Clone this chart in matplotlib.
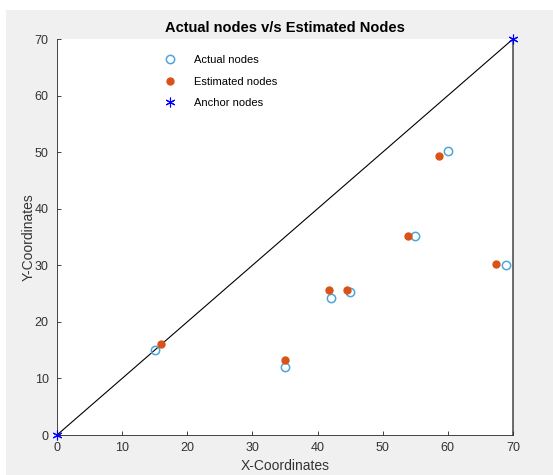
import matplotlib
matplotlib.use("Agg")
import matplotlib.pyplot as plt
from matplotlib.patches import Rectangle

plt.rcParams['font.family'] = ['Liberation Sans', 'DejaVu Sans']

# Data
actual_x = [15, 35, 42, 45, 55, 60, 69]
actual_y = [15, 12, 24.2, 25.2, 35.1, 50.2, 30.1]
est_x = [15.9, 35.0, 41.7, 44.5, 53.9, 58.7, 67.4]
est_y = [16.1, 13.3, 25.6, 25.6, 35.2, 49.4, 30.3]
anchor_x = [0, 70]
anchor_y = [0, 70]
path_x = [0, 70, 70]
path_y = [0, 70, 0]
ticks = [0, 10, 20, 30, 40, 50, 60, 70]

fig = plt.figure(figsize=(5.53, 4.75), dpi=100, facecolor='#f0f0f0')
# white strips (screenshot border)
fig.patches.append(Rectangle((0, 1 - 10/475), 1, 10/475, transform=fig.transFigure,
                             facecolor='white', edgecolor='none', zorder=-1))
fig.patches.append(Rectangle((0, 0), 6/553, 1, transform=fig.transFigure,
                             facecolor='white', edgecolor='none', zorder=-1))

ax = fig.add_axes([57/553, 40/475, 456/553, 396/475])
ax.set_facecolor('white')

ax.plot(path_x, path_y, color='black', linewidth=0.8, zorder=1, clip_on=False)
ax.plot(actual_x, actual_y, linestyle='none', marker='o', markersize=6,
        markerfacecolor='none', markeredgecolor='#4ea5dc', markeredgewidth=1.1,
        label='Actual nodes', zorder=3)
ax.plot(est_x, est_y, linestyle='none', marker='o', markersize=5,
        markerfacecolor='#d95319', markeredgecolor='#d95319',
        label='Estimated nodes', zorder=4)
ax.plot(anchor_x, anchor_y, linestyle='none', marker=(6, 2, 0), markersize=7,
        color='blue', markeredgewidth=0.8, label='Anchor nodes', zorder=5,
        clip_on=False)

ax.set_xlim(0, 70)
ax.set_ylim(0, 70)
ax.set_xticks(ticks)
ax.set_yticks(ticks)
for s in ['top', 'right']:
    ax.spines[s].set_visible(False)
for s in ['left', 'bottom']:
    ax.spines[s].set_color('#262626')
    ax.spines[s].set_linewidth(0.6)
ax.tick_params(direction='in', length=3, width=0.6, labelsize=9, colors='#262626',
               labelcolor='#333333')
ax.tick_params(axis='x', pad=5)
ax.tick_params(axis='y', pad=6)

ax.set_title('Actual nodes v/s Estimated Nodes', fontsize=10.5, fontweight='bold', pad=5)
ax.set_xlabel('X-Coordinates', fontsize=10, color='#333333', labelpad=4)
ax.set_ylabel('Y-Coordinates', fontsize=10, color='#333333', labelpad=-1)

leg = ax.legend(loc='upper left', bbox_to_anchor=(0.2, 0.985), frameon=False,
                fontsize=8, numpoints=1, handlelength=2.2, labelspacing=1.05,
                handletextpad=1.0)

fig.savefig('out.png', dpi=100, facecolor=fig.get_facecolor())
